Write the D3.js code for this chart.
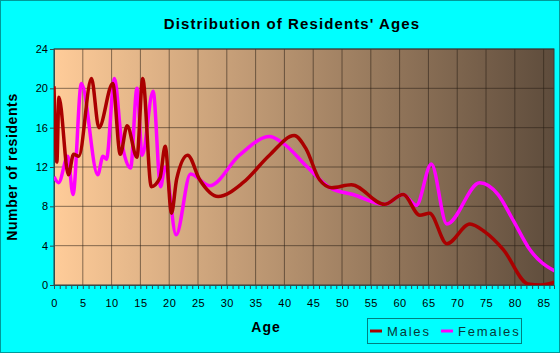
<!DOCTYPE html>
<html>
<head>
<meta charset="utf-8">
<script src="https://cdn.jsdelivr.net/npm/d3@7"></script>
<style>
  html, body { margin: 0; padding: 0; background: #00ffff; }
  svg { display: block; }
  text { font-family: "Liberation Sans", Arial, sans-serif; }
</style>
</head>
<body>
<svg id="chart" width="560" height="353"></svg>
<script>
// values
const maleAges = [0, 0.5, 0.85, 2.5, 3.4, 4.3, 6.5, 7.8, 10.2, 11.5, 12.7, 14.4, 15.4, 16.9, 18.4, 19.3, 20.4, 21.3, 23.2, 25.3, 28.5, 32.8, 37.4, 41.7, 43.8, 46.1, 48.2, 51.6, 57.4, 60.6, 63.5, 65.2, 68.2, 72.2, 74.8, 78, 82.3, 84.5, 87];
const maleCounts = [20.2, 12.5, 19.1, 11.2, 13.3, 13.1, 21.0, 16.0, 20.5, 13.3, 16.2, 13.0, 21.0, 10.0, 10.9, 14.1, 7.3, 10.8, 13.2, 10.7, 9.0, 10.4, 13.2, 15.2, 13.8, 10.7, 9.9, 10.2, 8.2, 9.2, 7.1, 7.3, 4.2, 6.2, 5.4, 3.6, 0.1, 0, 0.3];

const femaleAges = [0, 0.8, 2.4, 3.3, 4.75, 7.6, 8.5, 9.1, 10.5, 11.7, 13.3, 14.4, 15.3, 17.2, 18.5, 19.3, 21.2, 23.7, 27, 32.2, 37.4, 39.8, 43.8, 47.9, 51.9, 57.4, 60.6, 62.9, 65.5, 68.2, 73.9, 77.1, 79.7, 82.6, 87];
const femaleCounts = [11.0, 10.4, 13.1, 9.2, 20.5, 11.2, 13.1, 12.8, 21.0, 14.8, 11.9, 20.0, 13.2, 19.7, 10.0, 12.0, 5.1, 11.3, 10.1, 13.2, 15.1, 14.4, 12.1, 9.9, 9.2, 8.2, 9.2, 8.1, 12.3, 6.2, 10.4, 9.2, 6.6, 3.6, 1.4];

const xTicks = [0, 5, 10, 15, 20, 25, 30, 35, 40, 45, 50, 55, 60, 65, 70, 75, 80, 85];
const yTicks = [0, 4, 8, 12, 16, 20, 24];
const seriesNames = ['Males', 'Females'];
const seriesColors = ['#aa0000', '#ff00ff'];

const svg = d3.select('#chart');
const width = +svg.attr('width');
const height = +svg.attr('height');
const margin = { left: 54, right: 6, top: 49, bottom: 68 };
const plotW = width - margin.left - margin.right;
const plotH = height - margin.top - margin.bottom;

svg.append('rect')
  .attr('x', 0.5).attr('y', 0.5)
  .attr('width', width - 1).attr('height', height - 1)
  .attr('fill', '#00ffff')
  .attr('stroke', '#009a9a');

const grad = svg.append('defs').append('linearGradient')
  .attr('id', 'bg').attr('x1', '0%').attr('x2', '100%').attr('y1', '0%').attr('y2', '0%');
grad.append('stop').attr('offset', '0%').attr('stop-color', '#ffcc99');
grad.append('stop').attr('offset', '100%').attr('stop-color', '#5e4c3c');

const x = d3.scaleLinear().domain([0, 86.8]).range([0, plotW]);
const y = d3.scaleLinear().domain([0, 24]).range([plotH, 0]);

const g = svg.append('g').attr('transform', `translate(${margin.left},${margin.top})`);

g.append('rect')
  .attr('width', plotW).attr('height', plotH)
  .attr('fill', 'url(#bg)');

// grid
g.append('g')
  .selectAll('line')
  .data(xTicks.filter(d => d > 0))
  .enter().append('line')
  .attr('x1', d => x(d)).attr('x2', d => x(d))
  .attr('y1', 0).attr('y2', plotH)
  .attr('stroke', 'rgba(40,30,20,0.55)');

g.append('g')
  .selectAll('line')
  .data(yTicks.filter(d => d > 0))
  .enter().append('line')
  .attr('x1', 0).attr('x2', plotW)
  .attr('y1', d => y(d)).attr('y2', d => y(d))
  .attr('stroke', 'rgba(40,30,20,0.55)');

g.append('rect')
  .attr('width', plotW).attr('height', plotH)
  .attr('fill', 'none')
  .attr('stroke', '#3a3a3a');

// axes
const xAxis = g.append('g')
  .attr('transform', `translate(0,${plotH})`)
  .call(d3.axisBottom(x).tickValues(d3.range(0, 87, 1)).tickSize(4).tickFormat(''));
xAxis.select('.domain').attr('stroke', '#2f4f4f');
xAxis.selectAll('line').attr('stroke', '#2f4f4f');

const xLabels = g.append('g')
  .attr('transform', `translate(0,${plotH})`)
  .call(d3.axisBottom(x).tickValues(xTicks).tickSize(0).tickPadding(14));
xLabels.select('.domain').remove();
xLabels.selectAll('text')
  .attr('font-size', 11)
  .attr('font-family', '"Liberation Sans", Arial, sans-serif')
  .attr('letter-spacing', 0.5)
  .attr('fill', '#000');

const yAxis = g.append('g')
  .call(d3.axisLeft(y).tickValues(yTicks).tickSize(4).tickPadding(2));
yAxis.select('.domain').attr('stroke', '#2f4f4f');
yAxis.selectAll('line').attr('stroke', '#2f4f4f');
yAxis.selectAll('text')
  .attr('font-size', 11)
  .attr('font-family', '"Liberation Sans", Arial, sans-serif')
  .attr('fill', '#000');

// lines
const clip = svg.append('defs').append('clipPath').attr('id', 'clip');
clip.append('rect').attr('width', plotW).attr('height', plotH + 3).attr('y', -3);

const line = d3.line()
  .x(d => x(d[0]))
  .y(d => y(d[1]))
  .curve(d3.curveMonotoneX);

const maleData = d3.zip(maleAges, maleCounts);
const femaleData = d3.zip(femaleAges, femaleCounts);

const lines = g.append('g').attr('clip-path', 'url(#clip)');
lines.append('path')
  .datum(femaleData)
  .attr('d', line)
  .attr('fill', 'none')
  .attr('stroke', seriesColors[1])
  .attr('stroke-width', 3.5)
  .attr('stroke-linejoin', 'round');
lines.append('path')
  .datum(maleData)
  .attr('d', line)
  .attr('fill', 'none')
  .attr('stroke', seriesColors[0])
  .attr('stroke-width', 3.5)
  .attr('stroke-linejoin', 'round');

// titles
svg.append('text')
  .attr('x', 292).attr('y', 29)
  .attr('text-anchor', 'middle')
  .attr('font-size', 15)
  .attr('font-weight', 'bold')
  .attr('letter-spacing', 1.1)
  .text("Distribution of Residents' Ages");

svg.append('text')
  .attr('transform', 'translate(17,167) rotate(-90)')
  .attr('text-anchor', 'middle')
  .attr('font-size', 14)
  .attr('font-weight', 'bold')
  .attr('letter-spacing', 0.6)
  .text('Number of residents');

svg.append('text')
  .attr('x', 266).attr('y', 332)
  .attr('text-anchor', 'middle')
  .attr('font-size', 14)
  .attr('font-weight', 'bold')
  .attr('letter-spacing', 1)
  .text('Age');

// legend
const legend = svg.append('g');
legend.append('rect')
  .attr('x', 367.5).attr('y', 318.5)
  .attr('width', 154).attr('height', 25)
  .attr('fill', 'none')
  .attr('stroke', '#008080');

const legendItems = legend.selectAll('g.item')
  .data(seriesNames)
  .enter().append('g')
  .attr('class', 'item')
  .attr('transform', (d, i) => `translate(${i === 0 ? 370 : 441},331)`);
legendItems.append('line')
  .attr('x1', 0).attr('x2', 12)
  .attr('stroke', (d, i) => seriesColors[i])
  .attr('stroke-width', 3);
legendItems.append('text')
  .attr('x', 17).attr('y', 5)
  .attr('font-size', 13)
  .attr('letter-spacing', 1.8)
  .attr('fill', '#083838')
  .text(d => d);
</script>
</body>
</html>
